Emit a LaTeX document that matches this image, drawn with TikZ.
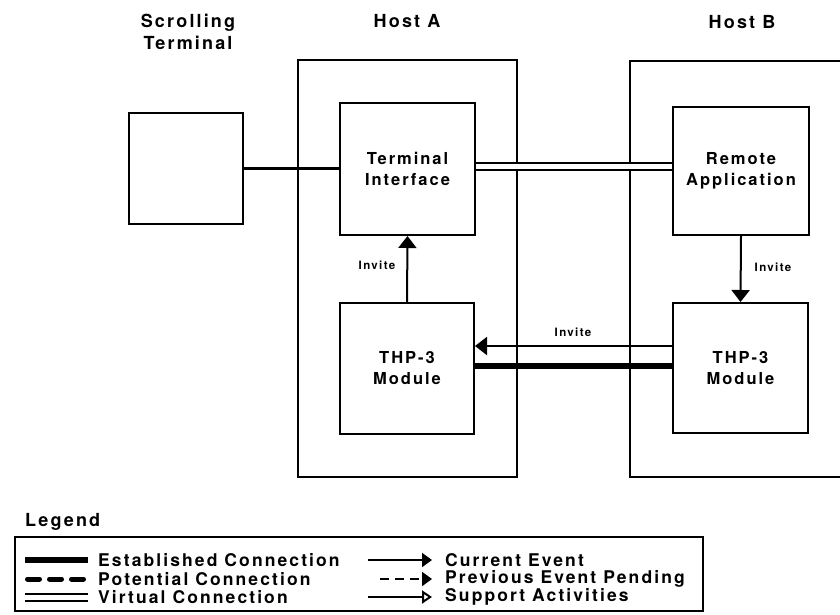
\documentclass[tikz,border=0pt]{standalone}
\usepackage{fontspec}
\setmainfont{TeX Gyre Heros}[LetterSpace=12]
\usetikzlibrary{arrows.meta}
\begin{document}
\begin{tikzpicture}[x=1pt,y=-1pt,
  box/.style={draw,line width=2pt,inner sep=0pt,align=center,font=\bfseries\fontsize{16.5}{21}\selectfont},
  lbl/.style={inner sep=0pt,align=center,font=\bfseries\fontsize{18}{22}\selectfont},
  leglbl/.style={inner sep=0pt,anchor=west,font=\bfseries\fontsize{17.5}{20}\selectfont},
  small/.style={inner sep=0pt,font=\bfseries\fontsize{11.5}{13}\selectfont},
  single/.style={line width=2.5pt},
  est/.style={line width=5.5pt},
  pot/.style={line width=5pt,line cap=round,dash pattern=on 12pt off 10pt},
  virt/.style={double,double distance=5pt,line width=2pt},
  arr/.style={line width=2pt,-{Triangle[length=12pt,width=18pt]}},
  larr/.style={line width=2pt,-{Triangle[length=10pt,width=14pt]}},
  oarr/.style={line width=2pt,-{Triangle[open,length=10pt,width=13pt,line width=2pt]}}]
\clip (0,0) rectangle (840,614);
% headings
\node[lbl] (hst) at (188,32) {Scrolling\\Terminal};
\node[lbl] (hha) at (407,21) {Host A};
\node[lbl] (hhb) at (742,22) {Host B};
% boxes
\node[box,minimum width=114pt,minimum height=111pt] (term) at (186,168.5) {};
\node[box,minimum width=219pt,minimum height=417pt] (hostA) at (407.5,268.5) {};
\node[box,minimum width=270pt,minimum height=416pt] (hostB) at (765,269) {};
\node[box,fill=white,minimum width=135pt,minimum height=132pt] (ti) at (407.5,169) {Terminal\\Interface};
\node[box,fill=white,minimum width=134pt,minimum height=131pt] (thpA) at (407,368.5) {THP-3\\Module};
\node[box,fill=white,minimum width=136pt,minimum height=128pt] (ra) at (741,171) {Remote\\Application};
\node[box,fill=white,minimum width=135pt,minimum height=130pt] (thpB) at (740.5,368) {THP-3\\Module};
% connections
\draw[single] (term.east) -- (term.east -| ti.west);
\draw[virt] ([yshift=3pt]ti.east) -- ([yshift=3pt]ti.east -| ra.west);
\draw[arr] (thpA.north) -- (ti.south);
\draw[arr] (ra.south) -- (thpB.north);
\draw[arr] ([yshift=22pt]thpB.west) -- ([yshift=22pt]thpB.west -| thpA.east);
\draw[est] ([yshift=2.5pt]thpA.east) -- ([yshift=2.5pt]thpA.east -| thpB.west);
\node[small] (inv1) at (377,265) {Invite};
\node[small] (inv2) at (573,332) {Invite};
\node[small] (inv3) at (773,267) {Invite};
% legend
\node[lbl,anchor=west] (leg) at (25,522) {Legend};
\draw[line width=2pt] (15,537) rectangle (703,611);
\coordinate (l1a) at (25,560); \coordinate (l1b) at (88,560);
\coordinate (l2a) at (27.5,579); \coordinate (l2b) at (88,579);
\coordinate (l3a) at (25,597); \coordinate (l3b) at (88,597);
\draw[est] (l1a) -- (l1b);
\draw[pot] (l2a) -- (l2b);
\draw[virt] (l3a) -- (l3b);
\node[leglbl] (t1) at (98,560) {Established Connection};
\node[leglbl] (t2) at (98,579) {Potential Connection};
\node[leglbl] (t3) at (98,597) {Virtual Connection};
\coordinate (r1a) at (368,560); \coordinate (r1b) at (432,560);
\coordinate (r2a) at (380,579); \coordinate (r2b) at (432,579);
\coordinate (r3a) at (368,597); \coordinate (r3b) at (432,597);
\draw[larr] (r1a) -- (r1b);
\draw[larr,dash pattern=on 9pt off 6pt] (r2a) -- (r2b);
\draw[oarr] (r3a) -- (r3b);
\node[leglbl] (u1) at (445,560) {Current Event};
\node[leglbl] (u2) at (445,579) {Previous Event Pending};
\node[leglbl] (u3) at (445,597) {Support Activities};
\end{tikzpicture}
\end{document}
